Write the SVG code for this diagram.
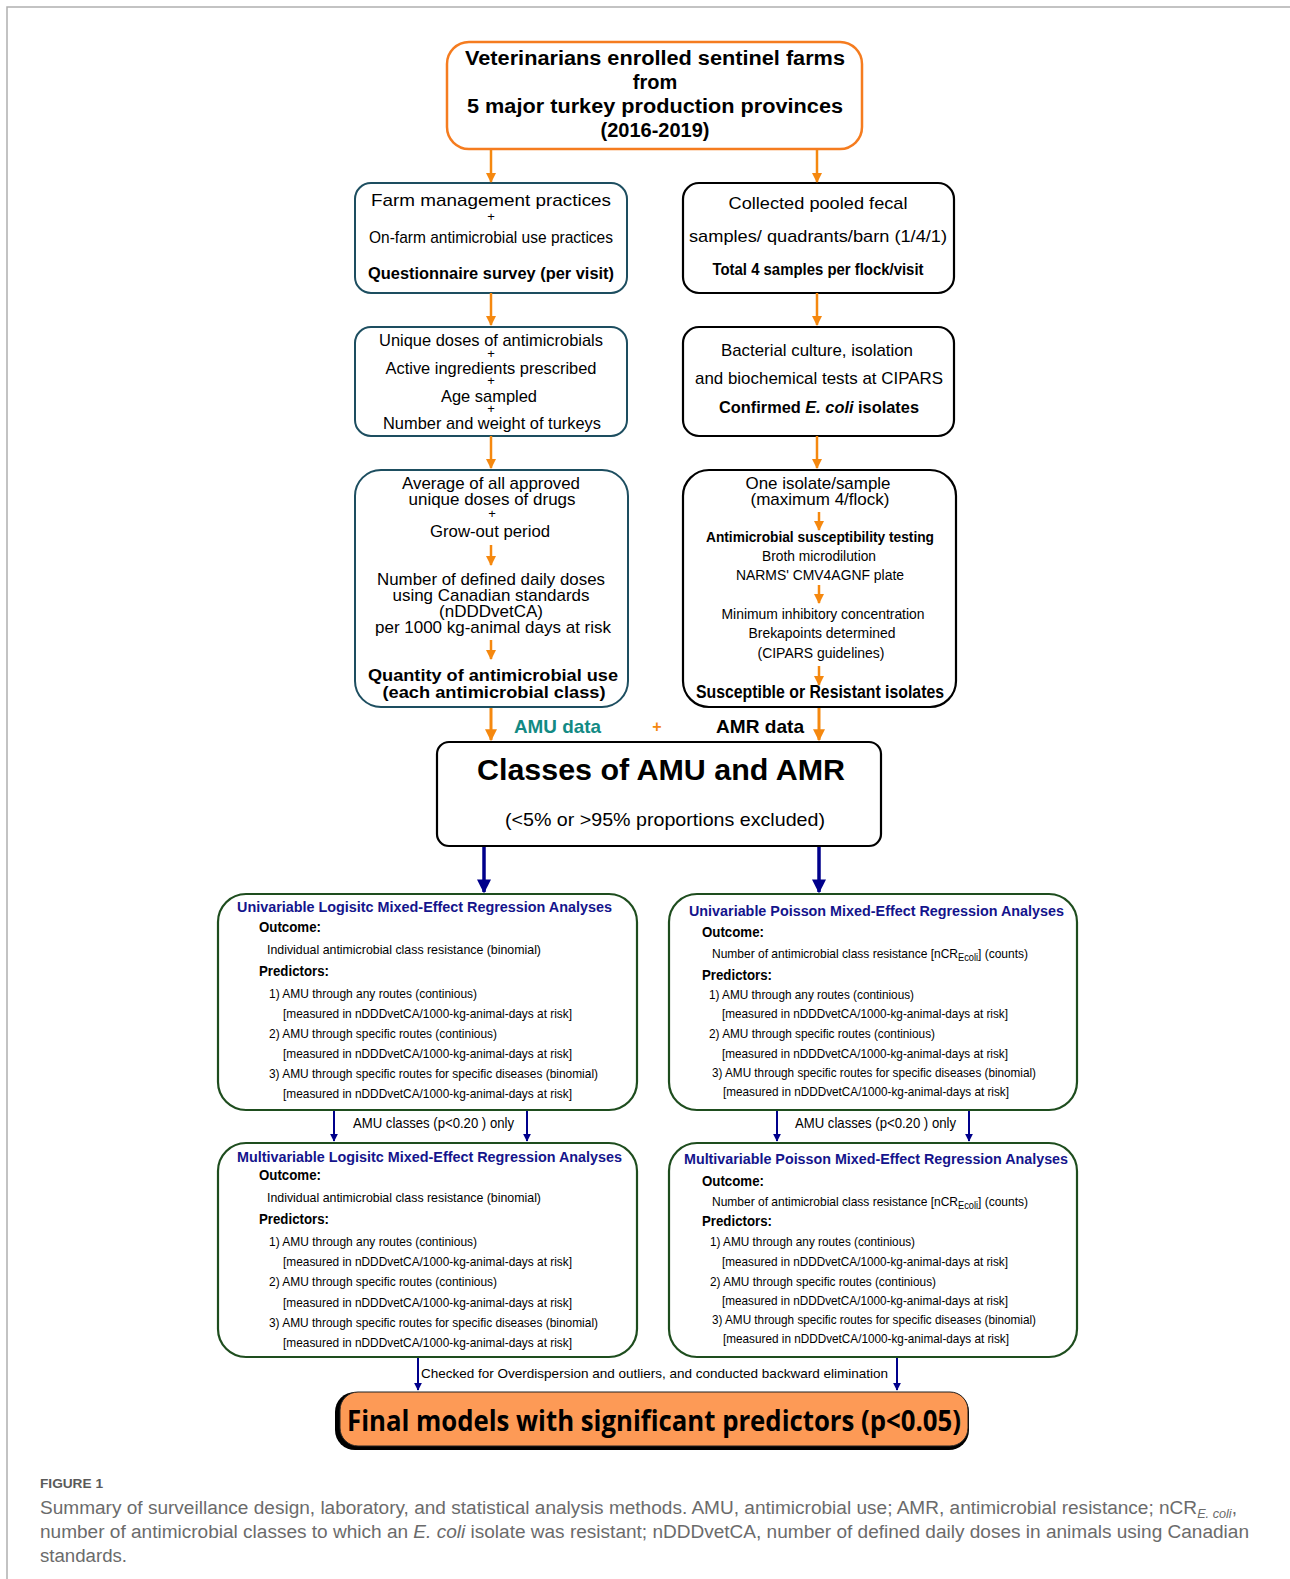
<svg xmlns="http://www.w3.org/2000/svg" width="1290" height="1579" viewBox="0 0 1290 1579">
<defs>
<style>
text{font-family:"Liberation Sans",Arial,sans-serif;fill:#000}
.c{text-anchor:middle}
.b{font-weight:bold}
.t20{font-size:20px}
.t17{font-size:17px}
.t16{font-size:16px}
.t15{font-size:15px}
.t14{font-size:14px}
.t13{font-size:13px}
.plus{font-size:13px}
.blue{fill:#14148c;font-weight:bold;font-size:14px}
.cap{fill:#6b6b6b;font-size:18px}
.box-teal{fill:#fff;stroke:#1d4e60;stroke-width:2}
.box-blk{fill:#fff;stroke:#000;stroke-width:2.2}
.box-grn{fill:#fff;stroke:#1e4d1e;stroke-width:2.2}
.ar-o{stroke:#f5880f;stroke-width:2.5;fill:none}
.ar-o3{stroke:#f5880f;stroke-width:3;fill:none}
.ar-b{stroke:#00008b;stroke-width:2;fill:none}
.ar-b3{stroke:#00008b;stroke-width:3.5;fill:none}
</style>
<marker id="mo" viewBox="0 0 10 10" refX="9" refY="5" markerWidth="4" markerHeight="4" orient="auto" markerUnits="strokeWidth"><path d="M0,0 L10,5 L0,10 z" fill="#f5880f"/></marker>
<marker id="mb" viewBox="0 0 10 10" refX="9" refY="5" markerWidth="4" markerHeight="4" orient="auto" markerUnits="strokeWidth"><path d="M0,0 L10,5 L0,10 z" fill="#00008b"/></marker>
</defs>
<rect x="0" y="0" width="1290" height="1579" fill="#fff"/>
<path d="M7,1579 V7 H1290" fill="none" stroke="#b0b0b0" stroke-width="1.5"/>

<g id="n-top">
<rect x="447" y="42" width="415" height="107" rx="22" fill="#fff" stroke="#f57c1f" stroke-width="2.5"/>
<text class="b c t20" x="655" y="65" textLength="380" lengthAdjust="spacingAndGlyphs">Veterinarians enrolled sentinel farms</text>
<text class="b c t20" x="655" y="89">from</text>
<text class="b c t20" x="655" y="113" textLength="376" lengthAdjust="spacingAndGlyphs">5 major turkey production provinces</text>
<text class="b c t20" x="655" y="137">(2016-2019)</text>
</g>

<g id="n-farm">
<rect x="355" y="183" width="272" height="110" rx="16" class="box-teal"/>
<text class="c t17" x="491" y="206" textLength="240" lengthAdjust="spacingAndGlyphs">Farm management practices</text>
<text class="c plus" x="491" y="221">+</text>
<text class="c t17" x="491" y="243" textLength="244" lengthAdjust="spacingAndGlyphs">On-farm antimicrobial use practices</text>
<text class="b c t17" x="491" y="279" textLength="246" lengthAdjust="spacingAndGlyphs">Questionnaire survey (per visit)</text>
</g>

<g id="n-collected">
<rect x="683" y="183" width="271" height="110" rx="16" class="box-blk"/>
<text class="c t17" x="818" y="209" textLength="179" lengthAdjust="spacingAndGlyphs">Collected pooled fecal</text>
<text class="c t17" x="818" y="242" textLength="258" lengthAdjust="spacingAndGlyphs">samples/ quadrants/barn (1/4/1)</text>
<text class="b c t17" x="818" y="275" textLength="211" lengthAdjust="spacingAndGlyphs">Total 4 samples per flock/visit</text>
</g>

<g id="n-doses">
<rect x="355" y="327" width="272" height="109" rx="16" class="box-teal"/>
<text class="c t17" x="491" y="346" textLength="224" lengthAdjust="spacingAndGlyphs">Unique doses of antimicrobials</text>
<text class="c plus" x="491" y="358">+</text>
<text class="c t17" x="491" y="374" textLength="211" lengthAdjust="spacingAndGlyphs">Active ingredients prescribed</text>
<text class="c plus" x="491" y="385">+</text>
<text class="c t17" x="489" y="402" textLength="96" lengthAdjust="spacingAndGlyphs">Age sampled</text>
<text class="c plus" x="491" y="413">+</text>
<text class="c t17" x="492" y="429" textLength="218" lengthAdjust="spacingAndGlyphs">Number and weight of turkeys</text>
</g>

<g id="n-bacterial">
<rect x="683" y="327" width="271" height="109" rx="16" class="box-blk"/>
<text class="c t17" x="817" y="356" textLength="192" lengthAdjust="spacingAndGlyphs">Bacterial culture, isolation</text>
<text class="c t17" x="819" y="384" textLength="248" lengthAdjust="spacingAndGlyphs">and biochemical tests at CIPARS</text>
<text class="b c t17" x="819" y="413" textLength="200" lengthAdjust="spacingAndGlyphs">Confirmed <tspan font-style="italic">E. coli</tspan> isolates</text>
</g>

<g id="n-average">
<rect x="355" y="470" width="273" height="237" rx="26" class="box-teal"/>
<text class="c t17" x="491" y="489" textLength="178" lengthAdjust="spacingAndGlyphs">Average of all approved</text>
<text class="c t17" x="492" y="505" textLength="167" lengthAdjust="spacingAndGlyphs">unique doses of drugs</text>
<text class="c plus" x="492" y="518">+</text>
<text class="c t17" x="490" y="537" textLength="120" lengthAdjust="spacingAndGlyphs">Grow-out period</text>
<text class="c t17" x="491" y="585" textLength="228" lengthAdjust="spacingAndGlyphs">Number of defined daily doses</text>
<text class="c t17" x="491" y="601" textLength="197" lengthAdjust="spacingAndGlyphs">using Canadian standards</text>
<text class="c t17" x="491" y="617" textLength="104" lengthAdjust="spacingAndGlyphs">(nDDDvetCA)</text>
<text class="c t17" x="493" y="633" textLength="236" lengthAdjust="spacingAndGlyphs">per 1000 kg-animal days at risk</text>
<text class="b c t17" x="493" y="681" textLength="250" lengthAdjust="spacingAndGlyphs">Quantity of antimicrobial use</text>
<text class="b c t17" x="494" y="698" textLength="223" lengthAdjust="spacingAndGlyphs">(each antimicrobial class)</text>
</g>

<g id="n-isolate">
<rect x="683" y="470" width="273" height="237" rx="26" class="box-blk"/>
<text class="c t17" x="818" y="489" textLength="145" lengthAdjust="spacingAndGlyphs">One isolate/sample</text>
<text class="c t17" x="820" y="505" textLength="139" lengthAdjust="spacingAndGlyphs">(maximum 4/flock)</text>
<text class="b c t15" x="820" y="542" textLength="228" lengthAdjust="spacingAndGlyphs">Antimicrobial susceptibility testing</text>
<text class="c t15" x="819" y="561" textLength="114" lengthAdjust="spacingAndGlyphs">Broth microdilution</text>
<text class="c t15" x="820" y="580" textLength="168" lengthAdjust="spacingAndGlyphs">NARMS' CMV4AGNF plate</text>
<text class="c t15" x="823" y="619" textLength="203" lengthAdjust="spacingAndGlyphs">Minimum inhibitory concentration</text>
<text class="c t15" x="822" y="638" textLength="147" lengthAdjust="spacingAndGlyphs">Brekapoints determined</text>
<text class="c t15" x="821" y="658" textLength="127" lengthAdjust="spacingAndGlyphs">(CIPARS guidelines)</text>
<text class="b c" x="820" y="698" textLength="248" lengthAdjust="spacingAndGlyphs" style="font-size:18px">Susceptible or Resistant isolates</text>
</g>

<g id="n-classes">
<rect x="437" y="742" width="444" height="104" rx="12" class="box-blk"/>
<text class="b c" x="661" y="780" textLength="368" lengthAdjust="spacingAndGlyphs" style="font-size:29px">Classes of AMU and AMR</text>
<text class="c" x="665" y="826" textLength="320" lengthAdjust="spacingAndGlyphs" style="font-size:19px">(&lt;5% or &gt;95% proportions excluded)</text>
</g>

<g id="n-uni-log">
<rect x="218" y="894" width="419" height="216" rx="28" class="box-grn"/>
<text class="blue" x="237" y="912" textLength="375" lengthAdjust="spacingAndGlyphs">Univariable Logisitc Mixed-Effect Regression Analyses</text>
<text class="b t15" x="259" y="932" textLength="62" lengthAdjust="spacingAndGlyphs">Outcome:</text>
<text class="t13" x="267" y="954" textLength="274" lengthAdjust="spacingAndGlyphs">Individual antimicrobial class resistance (binomial)</text>
<text class="b t15" x="259" y="976" textLength="70" lengthAdjust="spacingAndGlyphs">Predictors:</text>
<text class="t13" x="269" y="998" textLength="208" lengthAdjust="spacingAndGlyphs">1) AMU through any routes (continious)</text>
<text class="t13" x="283" y="1018" textLength="289" lengthAdjust="spacingAndGlyphs">[measured in nDDDvetCA/1000-kg-animal-days at risk]</text>
<text class="t13" x="269" y="1038" textLength="228" lengthAdjust="spacingAndGlyphs">2) AMU through specific routes (continious)</text>
<text class="t13" x="283" y="1058" textLength="289" lengthAdjust="spacingAndGlyphs">[measured in nDDDvetCA/1000-kg-animal-days at risk]</text>
<text class="t13" x="269" y="1078" textLength="329" lengthAdjust="spacingAndGlyphs">3) AMU through specific routes for specific diseases (binomial)</text>
<text class="t13" x="283" y="1098" textLength="289" lengthAdjust="spacingAndGlyphs">[measured in nDDDvetCA/1000-kg-animal-days at risk]</text>
</g>

<g id="n-uni-poi">
<rect x="669" y="894" width="408" height="216" rx="28" class="box-grn"/>
<text class="blue" x="689" y="916" textLength="375" lengthAdjust="spacingAndGlyphs">Univariable Poisson Mixed-Effect Regression Analyses</text>
<text class="b t15" x="702" y="937" textLength="62" lengthAdjust="spacingAndGlyphs">Outcome:</text>
<text class="t13" x="712" y="958" textLength="316" lengthAdjust="spacingAndGlyphs">Number of antimicrobial class resistance [nCR<tspan dy="3" style="font-size:10px">Ecoli</tspan><tspan dy="-3">] (counts)</tspan></text>
<text class="b t15" x="702" y="980" textLength="70" lengthAdjust="spacingAndGlyphs">Predictors:</text>
<text class="t13" x="709" y="999" textLength="205" lengthAdjust="spacingAndGlyphs">1) AMU through any routes (continious)</text>
<text class="t13" x="722" y="1018" textLength="286" lengthAdjust="spacingAndGlyphs">[measured in nDDDvetCA/1000-kg-animal-days at risk]</text>
<text class="t13" x="709" y="1038" textLength="226" lengthAdjust="spacingAndGlyphs">2) AMU through specific routes (continious)</text>
<text class="t13" x="722" y="1058" textLength="286" lengthAdjust="spacingAndGlyphs">[measured in nDDDvetCA/1000-kg-animal-days at risk]</text>
<text class="t13" x="712" y="1077" textLength="324" lengthAdjust="spacingAndGlyphs">3) AMU through specific routes for specific diseases (binomial)</text>
<text class="t13" x="723" y="1096" textLength="286" lengthAdjust="spacingAndGlyphs">[measured in nDDDvetCA/1000-kg-animal-days at risk]</text>
</g>

<g id="n-multi-log">
<rect x="218" y="1143" width="419" height="214" rx="28" class="box-grn"/>
<text class="blue" x="237" y="1162" textLength="385" lengthAdjust="spacingAndGlyphs">Multivariable Logisitc Mixed-Effect Regression Analyses</text>
<text class="b t15" x="259" y="1180" textLength="62" lengthAdjust="spacingAndGlyphs">Outcome:</text>
<text class="t13" x="267" y="1202" textLength="274" lengthAdjust="spacingAndGlyphs">Individual antimicrobial class resistance (binomial)</text>
<text class="b t15" x="259" y="1224" textLength="70" lengthAdjust="spacingAndGlyphs">Predictors:</text>
<text class="t13" x="269" y="1246" textLength="208" lengthAdjust="spacingAndGlyphs">1) AMU through any routes (continious)</text>
<text class="t13" x="283" y="1266" textLength="289" lengthAdjust="spacingAndGlyphs">[measured in nDDDvetCA/1000-kg-animal-days at risk]</text>
<text class="t13" x="269" y="1286" textLength="228" lengthAdjust="spacingAndGlyphs">2) AMU through specific routes (continious)</text>
<text class="t13" x="283" y="1307" textLength="289" lengthAdjust="spacingAndGlyphs">[measured in nDDDvetCA/1000-kg-animal-days at risk]</text>
<text class="t13" x="269" y="1327" textLength="329" lengthAdjust="spacingAndGlyphs">3) AMU through specific routes for specific diseases (binomial)</text>
<text class="t13" x="283" y="1347" textLength="289" lengthAdjust="spacingAndGlyphs">[measured in nDDDvetCA/1000-kg-animal-days at risk]</text>
</g>

<g id="n-multi-poi">
<rect x="669" y="1143" width="408" height="214" rx="28" class="box-grn"/>
<text class="blue" x="684" y="1164" textLength="384" lengthAdjust="spacingAndGlyphs">Multivariable Poisson Mixed-Effect Regression Analyses</text>
<text class="b t15" x="702" y="1186" textLength="62" lengthAdjust="spacingAndGlyphs">Outcome:</text>
<text class="t13" x="712" y="1206" textLength="316" lengthAdjust="spacingAndGlyphs">Number of antimicrobial class resistance [nCR<tspan dy="3" style="font-size:10px">Ecoli</tspan><tspan dy="-3">] (counts)</tspan></text>
<text class="b t15" x="702" y="1226" textLength="70" lengthAdjust="spacingAndGlyphs">Predictors:</text>
<text class="t13" x="710" y="1246" textLength="205" lengthAdjust="spacingAndGlyphs">1) AMU through any routes (continious)</text>
<text class="t13" x="722" y="1266" textLength="286" lengthAdjust="spacingAndGlyphs">[measured in nDDDvetCA/1000-kg-animal-days at risk]</text>
<text class="t13" x="710" y="1286" textLength="226" lengthAdjust="spacingAndGlyphs">2) AMU through specific routes (continious)</text>
<text class="t13" x="722" y="1305" textLength="286" lengthAdjust="spacingAndGlyphs">[measured in nDDDvetCA/1000-kg-animal-days at risk]</text>
<text class="t13" x="712" y="1324" textLength="324" lengthAdjust="spacingAndGlyphs">3) AMU through specific routes for specific diseases (binomial)</text>
<text class="t13" x="723" y="1343" textLength="286" lengthAdjust="spacingAndGlyphs">[measured in nDDDvetCA/1000-kg-animal-days at risk]</text>
</g>

<g id="n-final">
<rect x="335" y="1392" width="634" height="58" rx="20" fill="#000"/>
<rect x="340" y="1392" width="628" height="54" rx="18" fill="#fd9a56" stroke="#222" stroke-width="1"/>
<text class="b c" x="654" y="1431" textLength="614" lengthAdjust="spacingAndGlyphs" style="font-size:28px;font-family:'Open Sans','Liberation Sans',sans-serif">Final models with significant predictors (p&lt;0.05)</text>
</g>

<g id="connectors">
<line class="ar-o" x1="491" y1="150" x2="491" y2="182" marker-end="url(#mo)"/>
<line class="ar-o" x1="817" y1="150" x2="817" y2="182" marker-end="url(#mo)"/>
<line class="ar-o" x1="491" y1="293" x2="491" y2="325" marker-end="url(#mo)"/>
<line class="ar-o" x1="817" y1="293" x2="817" y2="325" marker-end="url(#mo)"/>
<line class="ar-o" x1="491" y1="436" x2="491" y2="468" marker-end="url(#mo)"/>
<line class="ar-o" x1="817" y1="436" x2="817" y2="468" marker-end="url(#mo)"/>
<line class="ar-o" x1="491" y1="545" x2="491" y2="565" marker-end="url(#mo)"/>
<line class="ar-o" x1="491" y1="640" x2="491" y2="659" marker-end="url(#mo)"/>
<line class="ar-o" x1="819" y1="512" x2="819" y2="530" marker-end="url(#mo)"/>
<line class="ar-o" x1="819" y1="585" x2="819" y2="603" marker-end="url(#mo)"/>
<line class="ar-o" x1="819" y1="666" x2="819" y2="685" marker-end="url(#mo)"/>
<line class="ar-o3" x1="491" y1="708" x2="491" y2="740" marker-end="url(#mo)"/>
<line class="ar-o3" x1="819" y1="708" x2="819" y2="740" marker-end="url(#mo)"/>
<line class="ar-b3" x1="484" y1="847" x2="484" y2="892" marker-end="url(#mb)"/>
<line class="ar-b3" x1="819" y1="847" x2="819" y2="892" marker-end="url(#mb)"/>
<line class="ar-b" x1="334" y1="1111" x2="334" y2="1141" marker-end="url(#mb)"/>
<line class="ar-b" x1="527" y1="1111" x2="527" y2="1141" marker-end="url(#mb)"/>
<line class="ar-b" x1="777" y1="1111" x2="777" y2="1141" marker-end="url(#mb)"/>
<line class="ar-b" x1="969" y1="1111" x2="969" y2="1141" marker-end="url(#mb)"/>
<line class="ar-b" x1="418" y1="1358" x2="418" y2="1390" marker-end="url(#mb)"/>
<line class="ar-b" x1="897" y1="1358" x2="897" y2="1390" marker-end="url(#mb)"/>
<text x="353" y="1128" textLength="161" lengthAdjust="spacingAndGlyphs" style="font-size:15px">AMU classes (p&lt;0.20 ) only</text>
<text x="795" y="1128" textLength="161" lengthAdjust="spacingAndGlyphs" style="font-size:15px">AMU classes (p&lt;0.20 ) only</text>
<text class="t13" x="421" y="1378" textLength="467" lengthAdjust="spacingAndGlyphs">Checked for Overdispersion and outliers, and conducted backward elimination</text>
<text class="b" x="514" y="733" textLength="87" lengthAdjust="spacingAndGlyphs" style="font-size:19px;fill:#138a84">AMU data</text>
<text class="b c" x="657" y="732" style="font-size:16px;fill:#f5880f">+</text>
<text class="b" x="716" y="733" textLength="88" lengthAdjust="spacingAndGlyphs" style="font-size:19px">AMR data</text>
</g>

<g id="caption">
<text class="b" x="40" y="1488" textLength="63" lengthAdjust="spacingAndGlyphs" style="font-size:13px;fill:#5a5a5a">FIGURE 1</text>
<text class="cap" x="40" y="1514" textLength="1197" lengthAdjust="spacingAndGlyphs">Summary of surveillance design, laboratory, and statistical analysis methods. AMU, antimicrobial use; AMR, antimicrobial resistance; nCR<tspan dy="4" font-style="italic" style="font-size:12px">E. coli</tspan><tspan dy="-4">,</tspan></text>
<text class="cap" x="40" y="1538" textLength="1209" lengthAdjust="spacingAndGlyphs">number of antimicrobial classes to which an <tspan font-style="italic">E. coli</tspan> isolate was resistant; nDDDvetCA, number of defined daily doses in animals using Canadian</text>
<text class="cap" x="40" y="1562" textLength="87" lengthAdjust="spacingAndGlyphs">standards.</text>
</g>
</svg>
